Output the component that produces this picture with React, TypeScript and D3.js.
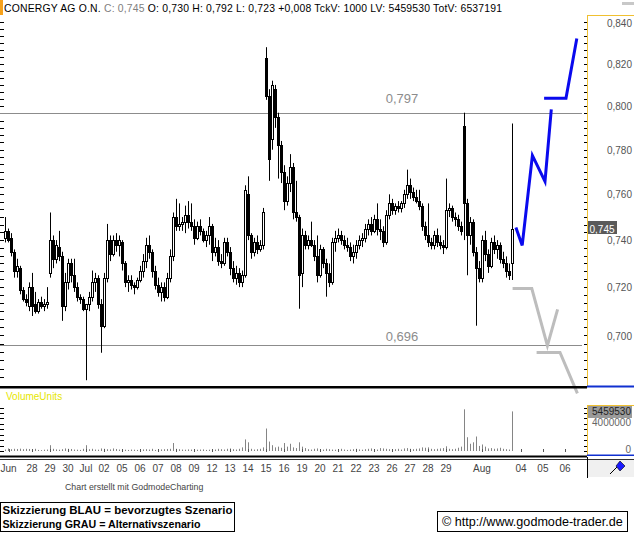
import React from 'react';
import * as d3 from 'd3';

// ---------- DATA ----------
const instrument = 'CONERGY AG O.N.';
const tickVolume = 1000;
const totalVolume = 6537191;
const prevClose = 0.737;

// intraday bars, prices in thousandths of EUR: [open, high, low, close]
const priceBars: number[][] = [
  [741, 750, 739, 744], [744, 745, 739, 740], [741, 743, 733, 735], [735, 736, 724, 727], [727, 732, 724, 729],
  [728, 729, 717, 719], [719, 720, 714, 715], [715, 717, 712, 714], [712, 722, 710, 720], [720, 726, 708, 712],
  [713, 718, 709, 710], [710, 715, 709, 714], [714, 716, 711, 712], [712, 715, 710, 713], [713, 720, 711, 714],
  [726, 752, 724, 740], [740, 742, 728, 732], [732, 740, 730, 738], [737, 744, 731, 733], [733, 735, 706, 712],
  [712, 726, 710, 722], [722, 732, 719, 730], [730, 732, 722, 725], [725, 732, 718, 720], [720, 722, 714, 716],
  [716, 717, 713, 715], [715, 716, 710, 711], [711, 713, 682, 713], [713, 718, 710, 716], [716, 727, 714, 722],
  [722, 726, 718, 724], [724, 725, 711, 713], [713, 715, 693, 704], [704, 726, 703, 724], [724, 747, 722, 740],
  [740, 742, 731, 734], [734, 742, 733, 740], [740, 743, 735, 738], [738, 742, 733, 740], [739, 740, 727, 730],
  [730, 731, 720, 722], [722, 725, 718, 723], [723, 725, 719, 721], [721, 722, 717, 720], [720, 724, 719, 723],
  [723, 729, 722, 727], [727, 734, 724, 731], [731, 741, 728, 738], [738, 742, 732, 735], [735, 736, 724, 727],
  [727, 729, 719, 721], [721, 724, 716, 718], [718, 722, 714, 720], [720, 722, 714, 716], [716, 726, 715, 724],
  [724, 736, 722, 733], [733, 752, 731, 750], [750, 758, 744, 746], [746, 756, 744, 747], [747, 750, 744, 748],
  [748, 755, 743, 751], [751, 757, 745, 748], [748, 756, 744, 746], [746, 749, 738, 741], [741, 748, 740, 746],
  [746, 749, 742, 744], [744, 745, 739, 740], [740, 744, 737, 742], [742, 750, 738, 746], [746, 747, 731, 735],
  [735, 741, 733, 737], [737, 740, 729, 731], [731, 734, 728, 730], [730, 741, 729, 739], [739, 741, 733, 735],
  [735, 737, 725, 728], [728, 731, 722, 724], [724, 729, 721, 726], [726, 728, 720, 722], [722, 727, 720, 725],
  [725, 764, 724, 762], [760, 768, 740, 742], [742, 743, 732, 735], [735, 741, 733, 739], [739, 742, 734, 736],
  [736, 740, 735, 738], [738, 754, 736, 752], [823, 828, 803, 805], [805, 808, 766, 776], [785, 812, 780, 810],
  [808, 810, 790, 795], [795, 797, 767, 782], [782, 784, 765, 770], [770, 773, 753, 757], [757, 768, 755, 765],
  [765, 778, 761, 772], [772, 774, 749, 752], [752, 766, 748, 750], [750, 751, 711, 725], [726, 745, 720, 742],
  [742, 744, 736, 738], [738, 742, 736, 740], [740, 748, 737, 738], [738, 740, 731, 733], [733, 742, 722, 725],
  [725, 738, 724, 736], [736, 737, 728, 730], [730, 732, 716, 726], [726, 730, 720, 722], [722, 741, 721, 739],
  [739, 744, 735, 741], [741, 745, 739, 742], [742, 744, 738, 740], [740, 742, 736, 738], [738, 741, 735, 737],
  [737, 739, 731, 733], [733, 738, 730, 735], [735, 740, 732, 738], [738, 742, 736, 740], [740, 743, 737, 741],
  [741, 747, 739, 745], [745, 749, 742, 747], [747, 750, 742, 744], [744, 751, 743, 749], [749, 756, 742, 745],
  [745, 749, 740, 744], [744, 746, 737, 739], [739, 753, 738, 751], [751, 760, 749, 756], [756, 758, 751, 753],
  [753, 756, 751, 755], [755, 757, 752, 754], [754, 757, 752, 756], [756, 762, 754, 760], [760, 771, 758, 764],
  [764, 767, 758, 761], [761, 763, 757, 759], [759, 762, 756, 757], [757, 762, 753, 755], [755, 756, 744, 746],
  [746, 748, 740, 742], [742, 756, 737, 739], [739, 741, 736, 738], [738, 744, 736, 742], [742, 745, 737, 739],
  [739, 742, 736, 738], [738, 740, 734, 737], [737, 767, 736, 753], [753, 756, 750, 754], [754, 755, 748, 750],
  [750, 752, 746, 749], [749, 751, 744, 746], [746, 748, 742, 744], [791, 797, 740, 756], [756, 758, 725, 742],
  [742, 750, 738, 748], [748, 749, 733, 735], [735, 737, 704, 728], [728, 731, 722, 724], [724, 742, 722, 740],
  [740, 744, 731, 734], [734, 736, 726, 729], [729, 741, 728, 739], [739, 742, 734, 736], [736, 740, 732, 738],
  [738, 739, 730, 732], [732, 735, 728, 730], [730, 733, 724, 727], [727, 730, 723, 725], [730, 792, 723, 745],
];

// volume per bar, thousands of units
const barVolumeK: number[] = [
  200, 350, 250, 300, 280, 320, 250, 300, 280, 260,
  300, 150, 120, 180, 200, 800, 300, 220, 180, 250,
  350, 300, 280, 200, 180, 150, 300, 800, 250, 300,
  200, 180, 350, 300, 250, 220, 350, 280, 200, 250,
  180, 150, 200, 180, 150, 200, 220, 250, 200, 300,
  150, 180, 220, 250, 280, 300, 1100, 300, 250, 200,
  180, 220, 200, 150, 180, 200, 220, 150, 180, 250,
  200, 300, 250, 200, 300, 350, 250, 200, 300, 500,
  1600, 1200, 300, 200, 250, 300, 500, 3100, 1300, 800,
  500, 600, 450, 1100, 600, 1000, 500, 400, 1200, 600,
  400, 250, 200, 300, 350, 250, 200, 300, 250, 200,
  180, 250, 300, 200, 150, 200, 250, 300, 220, 180,
  250, 300, 350, 250, 200, 400, 350, 300, 250, 200,
  250, 300, 200, 350, 400, 300, 250, 300, 350, 500,
  450, 500, 300, 250, 300, 350, 400, 650, 300, 250,
  300, 450, 600, 5750, 1900, 1000, 1200, 2000, 700, 900,
  600, 350, 400, 300, 350, 450, 300, 250, 200, 5459.53,
];

// horizontal levels
const levels = [0.797, 0.696];

// right axis tick labels
const priceTicks = [0.70, 0.72, 0.74, 0.76, 0.78, 0.80, 0.82, 0.84];
const volumeTicks = [0, 4000000];

// date labels and their position in bar slots
const dateLabels = ['Jun', '28', '29', '30', 'Jul', '02', '05', '06', '07', '08', '09', '12', '13', '14', '15', '16', '19', '20', '21', '22', '23', '26', '27', '28', '29', 'Aug', '04', '05', '06'];
const dateSlots = [1.2, 9, 15, 21, 27, 33, 39, 45, 51, 57, 63, 69, 75, 81, 87, 93, 99, 105, 111, 117, 123, 129, 135, 141, 147, 159, 172, 179.3, 186.7];

// scenario sketches [slot, price]
const blueScenarioA = [[170.3, 0.7455], [172.4, 0.7377], [175.8, 0.7774], [180, 0.7657], [182.1, 0.7985]];
const blueScenarioB = [[179.7, 0.8038], [187, 0.8038], [190.6, 0.8322]];
const grayScenarioA = [[169.2, 0.7194], [175.6, 0.7194], [180.8, 0.6959], [184.2, 0.7107]];
const grayScenarioB = [[177.2, 0.6931], [185, 0.6931], [190.8, 0.6768]];

// ---------- CHART ----------
const W = 634;
const H = 539;
const FONT = '"Liberation Sans", Arial, Helvetica, sans-serif';

const fmt = (v: number) => v.toFixed(3).replace('.', ',');

export default function App() {
  const bars = priceBars.map(([o, h, l, c], i) => ({ i, o: o / 1000, h: h / 1000, l: l / 1000, c: c / 1000, v: barVolumeK[i] * 1000 }));
  const n = bars.length;
  const x = d3.scaleLinear().domain([0, n - 1]).range([5, 512]);
  const y = d3.scaleLog().domain([0.70, 0.84]).range([335.5, 22.5]);
  const yv = d3.scaleLinear().domain([0, 4000000]).range([451, 422]);

  const last = bars[n - 1];
  const change = last.c - prevClose;

  const minorPrice = d3.range(0, 50).map((k) => 0.68 + k * (0.02 / 6)).filter((v) => y(v) >= 16 && y(v) <= 385);
  const minorVol = d3.range(0, 9).map((k) => k * 750000);

  const line = d3.line<number[]>().x((d) => x(d[0])).y((d) => y(d[1]));

  const px = (v: number) => Math.round(v) + 0.5;

  return (
    <svg width={W} height={H} style={{ position: 'absolute', left: 0, top: 0, background: '#fff' }} fontFamily={FONT}>
      <rect x={0} y={0} width={W} height={H} fill="#fff" />
      {/* header */}
      <rect x={0} y={0} width={3} height={15} fill="#f7a21b" />
      <text x={4} y={11.5} fontSize={10.4} fill="#000" textLength={498} lengthAdjust="spacing">
        <tspan>{instrument} </tspan>
        <tspan fill="#808080">C: {fmt(last.c)}</tspan>
        <tspan> O: {fmt(last.o)} H: {fmt(last.h)} L: {fmt(last.l)} {change >= 0 ? '+' : ''}{fmt(change)} TckV: {tickVolume} LV: {Math.round(last.v)} TotV: {totalVolume}</tspan>
      </text>
      <rect x={622} y={2} width={12} height={3} fill="#c8c8c8" />

      {/* left ticks */}
      {minorPrice.map((v, k) => (
        <line key={'lt' + k} x1={0} x2={4} y1={px(y(v))} y2={px(y(v))} stroke="#000" />
      ))}
      {/* right minor ticks */}
      {minorPrice.map((v, k) => (
        <line key={'rt' + k} x1={584} x2={587} y1={px(y(v))} y2={px(y(v))} stroke="#000" />
      ))}

      {/* levels */}
      {levels.map((lv, k) => (
        <g key={'lv' + k}>
          <line x1={0} x2={582} y1={px(y(lv))} y2={px(y(lv))} stroke="#8c8c8c" />
          <text x={402} y={y(lv) - (k === 0 ? 10 : 4)} fontSize={13} fill="#8c8c8c" textAnchor="middle">{fmt(lv)}</text>
        </g>
      ))}

      {/* candles */}
      {bars.map((b) => {
        const cx = Math.round(x(b.i));
        const top = Math.round(y(Math.max(b.o, b.c))) + 0.5;
        const bot = Math.round(y(Math.min(b.o, b.c))) + 0.5;
        const up = b.c >= b.o;
        return (
          <g key={'b' + b.i}>
            <line x1={cx + 0.5} x2={cx + 0.5} y1={y(b.h)} y2={y(b.l)} stroke="#000" />
            <rect x={cx - 0.5} y={top} width={2} height={Math.max(bot - top, 1)} fill={up ? '#fff' : '#000'} stroke="#000" />
          </g>
        );
      })}

      {/* scenarios */}
      <path d={line(grayScenarioA) || ''} fill="none" stroke="#bdbdbd" strokeWidth={3} />
      <path d={line(grayScenarioB) || ''} fill="none" stroke="#bdbdbd" strokeWidth={3} />
      <path d={line(blueScenarioA) || ''} fill="none" stroke="#0a0aee" strokeWidth={3} />
      <path d={line(blueScenarioB) || ''} fill="none" stroke="#0a0aee" strokeWidth={3} />

      {/* right price axis */}
      <line x1={587.5} x2={587.5} y1={15} y2={387} stroke="#f0c030" />
      <line x1={587} x2={634} y1={15.5} y2={15.5} stroke="#f0c030" />
      {priceTicks.map((v) => (
        <text key={'pt' + v} x={632} y={y(v) + 4} fontSize={10} fill="#555" textAnchor="end">{fmt(v)}</text>
      ))}
      <rect x={588} y={221} width={29} height={13} fill="#5a5a5a" />
      <text x={589.5} y={y(last.c) + 4} fontSize={10} fill="#fff">{fmt(last.c)}</text>

      {/* separators */}
      <rect x={0} y={386} width={587} height={2.5} fill="#000" />
      <rect x={587} y={385.5} width={47} height={2} fill="#1030d0" />

      {/* volume panel */}
      <text x={6} y={400} fontSize={10} fill="#e6e600">VolumeUnits</text>
      {minorVol.map((v, k) => (
        <g key={'vt' + k}>
          <line x1={0} x2={4} y1={px(yv(v))} y2={px(yv(v))} stroke="#000" />
          <line x1={584} x2={587} y1={px(yv(v))} y2={px(yv(v))} stroke="#000" />
        </g>
      ))}
      {bars.map((b) => (
        <line key={'v' + b.i} x1={Math.round(x(b.i)) + 0.5} x2={Math.round(x(b.i)) + 0.5} y1={yv(0)} y2={yv(b.v)} stroke="#858585" />
      ))}
      <line x1={587} x2={634} y1={405.5} y2={405.5} stroke="#f0c030" />
      <line x1={587.5} x2={587.5} y1={405} y2={456} stroke="#f0c030" />
      <rect x={588} y={406} width={44} height={12} fill="#9a9a9a" />
      <text x={631} y={yv(last.v) + 4} fontSize={10} fill="#222" textAnchor="end">{Math.round(last.v)}</text>
      {volumeTicks.map((v) => (
        <text key={'vl' + v} x={631} y={yv(v) + (v === 0 ? 2 : 4)} fontSize={10} fill="#666" textAnchor="end">{v}</text>
      ))}
      <rect x={587} y={454.5} width={47} height={1.5} fill="#1030d0" />

      {/* x axis */}
      <rect x={0} y={455.5} width={587} height={2} fill="#000" />
      <line x1={0} x2={634} y1={459.5} y2={459.5} stroke="#333" />
      {dateSlots.map((s, k) => (
        <line key={'xt' + k} x1={px(x(s))} x2={px(x(s))} y1={449} y2={452} stroke="#555" />
      ))}
      {dateLabels.map((lab, k) => (
        <text key={'xl' + k} x={x(dateSlots[k])} y={472} fontSize={10} fill="#444" textAnchor="middle">{lab}</text>
      ))}
      <rect x={588} y={460} width={46} height={17} fill="#f0f0f0" />
      <line x1={587.5} x2={587.5} y1={457} y2={478} stroke="#000" />
      <line x1={610} x2={617} y1={474} y2={467} stroke="#000" />
      <path d="M616,466 L620,461 L625,466 L620,471 Z" fill="#1a1aff" stroke="#000" strokeWidth={0.6} />

      {/* footer */}
      <text x={65} y={490} fontSize={8.8} fill="#444">Chart erstellt mit GodmodeCharting</text>
      <rect x={0.5} y={502.5} width={234} height={29} fill="#fff" stroke="#000" />
      <text x={2.5} y={513.5} fontSize={11.2} fontWeight="bold" fill="#000" textLength={230} lengthAdjust="spacingAndGlyphs">Skizzierung BLAU = bevorzugtes Szenario</text>
      <text x={2.5} y={527.5} fontSize={11.2} fontWeight="bold" fill="#000" textLength={198} lengthAdjust="spacingAndGlyphs">Skizzierung GRAU = Alternativszenario</text>
      <rect x={437.5} y={511.5} width={190} height={20} fill="#fff" stroke="#000" />
      <text x={442} y={526} fontSize={12.6} fill="#000">© http://www.godmode-trader.de</text>
    </svg>
  );
}
